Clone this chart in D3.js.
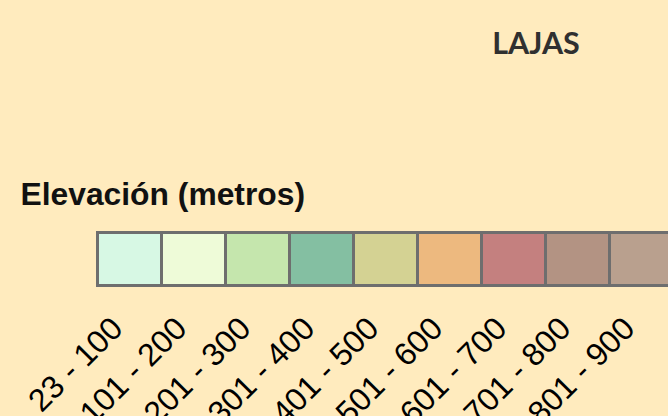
<!DOCTYPE html>
<html>
<head>
<meta charset="utf-8">
<script src="https://cdn.jsdelivr.net/npm/d3@7"></script>
<style>
  html, body { margin: 0; padding: 0; background: #FFEBBE; }
  svg { display: block; }
</style>
</head>
<body>
<div id="chart"></div>
<script>
const categories = ["23 - 100", "101 - 200", "201 - 300", "301 - 400", "401 - 500",
                    "501 - 600", "601 - 700", "701 - 800", "801 - 900"];
const colors = ["#D7F8E4", "#EEFBD8", "#C5E6AD", "#84BFA2", "#D4D293",
                "#EDB97F", "#C4807F", "#B39383", "#B9A08E"];
const mapTitle = "LAJAS";
const legendTitle = "Elevación (metros)";

const W = 668, H = 416;
const svg = d3.select("#chart").append("svg")
  .attr("width", W).attr("height", H);

svg.append("rect").attr("width", W).attr("height", H).attr("fill", "#FFEBBE");

svg.append("text")
  .attr("x", 536).attr("y", 54)
  .attr("text-anchor", "middle")
  .attr("font-family", "Lato, 'Open Sans', sans-serif")
  .attr("font-weight", "bold")
  .attr("font-size", 30.5)
  .attr("fill", "#303030")
  .text(mapTitle);

svg.append("text")
  .attr("x", 20.5).attr("y", 205)
  .attr("font-family", "'Liberation Sans', Arial, sans-serif")
  .attr("font-weight", "bold")
  .attr("font-size", 31.8)
  .attr("fill", "#111111")
  .text(legendTitle);

const x = d3.scaleBand().domain(categories).range([97.5, 673.5]).padding(0);
const y0 = 232.5, y1 = 285.5;

const cells = svg.append("g");
cells.selectAll("rect").data(categories).join("rect")
  .attr("x", d => x(d))
  .attr("y", y0)
  .attr("width", x.bandwidth())
  .attr("height", y1 - y0)
  .attr("fill", (d, i) => colors[i])
  .attr("stroke", "#6E6E6E")
  .attr("stroke-width", 3);

const labels = svg.append("g");
labels.selectAll("text").data(categories).join("text")
  .attr("transform", d => `translate(${x(d) + x.bandwidth() / 2 - 5},330.5) rotate(-45)`)
  .attr("text-anchor", "end")
  .attr("font-family", "'Liberation Sans', Arial, sans-serif")
  .attr("font-size", 32)
  .attr("fill", "#000000")
  .text(d => d);
</script>
</body>
</html>
